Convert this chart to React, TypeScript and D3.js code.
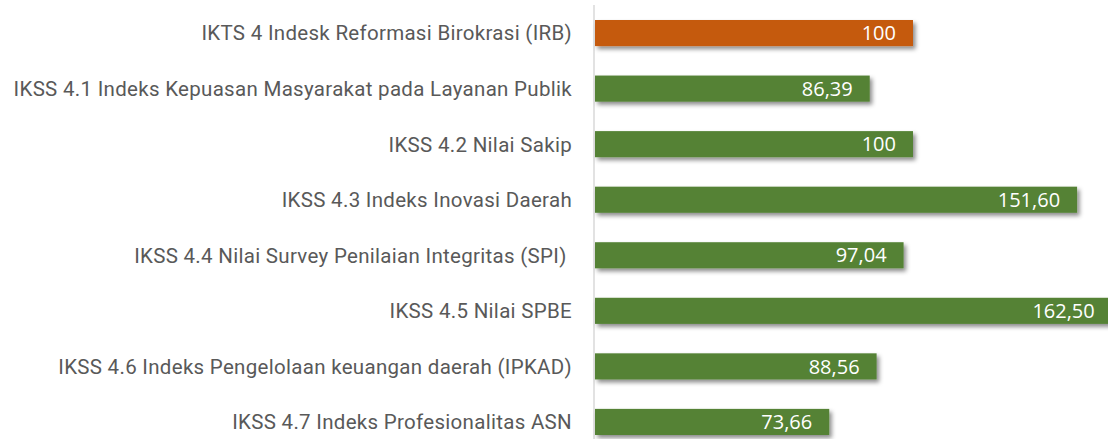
import * as d3 from "d3";
import { useEffect, useRef } from "react";

const labels = [
  "IKTS 4 Indesk Reformasi Birokrasi (IRB)",
  "IKSS 4.1 Indeks Kepuasan Masyarakat pada Layanan Publik",
  "IKSS 4.2 Nilai Sakip",
  "IKSS 4.3 Indeks Inovasi Daerah",
  "IKSS 4.4 Nilai Survey Penilaian Integritas (SPI) ",
  "IKSS 4.5 Nilai SPBE",
  "IKSS 4.6 Indeks Pengelolaan keuangan daerah (IPKAD)",
  "IKSS 4.7 Indeks Profesionalitas ASN",
];
const values = [100, 86.39, 100, 151.6, 97.04, 162.5, 88.56, 73.66];
const valueText = ["100", "86,39", "100", "151,60", "97,04", "162,50", "88,56", "73,66"];

const W = 1108;
const H = 439;

export default function App() {
  const ref = useRef<SVGSVGElement | null>(null);
  useEffect(() => {
    if (!ref.current) return;
    const svg = d3.select(ref.current);
    svg.selectAll("*").remove();

    const x0 = 595;
    const x = d3.scaleLinear().domain([0, 100]).range([x0, 913]);
    const y = d3.scaleBand().domain(labels).range([5, 450]).paddingInner(0.53).paddingOuter(0.27);

    const defs = svg.append("defs");
    const f = defs.append("filter").attr("id", "shadow").attr("x", "-5%").attr("y", "-30%").attr("width", "115%").attr("height", "180%");
    f.append("feDropShadow")
      .attr("dx", 2.5)
      .attr("dy", 3)
      .attr("stdDeviation", 2)
      .attr("flood-color", "#000")
      .attr("flood-opacity", 0.45);

    svg.append("line")
      .attr("x1", x0 - 1)
      .attr("x2", x0 - 1)
      .attr("y1", 5)
      .attr("y2", H)
      .attr("stroke", "#d9d9d9")
      .attr("stroke-width", 1.5);

    const g = svg.append("g").selectAll("g").data(labels).enter().append("g");

    g.append("rect")
      .attr("x", x0)
      .attr("y", (d) => y(d) ?? 0)
      .attr("width", (_, i) => x(values[i]) - x0)
      .attr("height", y.bandwidth())
      .attr("fill", (_, i) => (i === 0 ? "#C55A11" : "#548235"))
      .attr("filter", "url(#shadow)");

    g.append("text")
      .attr("x", (_, i) => x(values[i]) - 17)
      .attr("y", (d) => (y(d) ?? 0) + y.bandwidth() / 2)
      .attr("dy", "0.36em")
      .attr("text-anchor", "end")
      .attr("fill", "#fff")
      .attr("font-size", "20px")
      .attr("font-family", "'Open Sans', sans-serif")
      .text((_, i) => valueText[i]);

    g.append("text")
      .attr("x", 572)
      .attr("y", (d) => (y(d) ?? 0) + y.bandwidth() / 2)
      .attr("dy", "0.36em")
      .attr("text-anchor", "end")
      .attr("fill", "#595959")
      .attr("font-size", "20.5px")
      .attr("letter-spacing", "0.3px")
      .attr("font-family", "Roboto, sans-serif")
      .style("white-space", "pre")
      .text((d) => d);
  }, []);
  return (
    <svg
      ref={ref}
      width={W}
      height={H}
      viewBox={`0 0 ${W} ${H}`}
      style={{ position: "absolute", left: 0, top: 0, background: "#fff" }}
    />
  );
}
